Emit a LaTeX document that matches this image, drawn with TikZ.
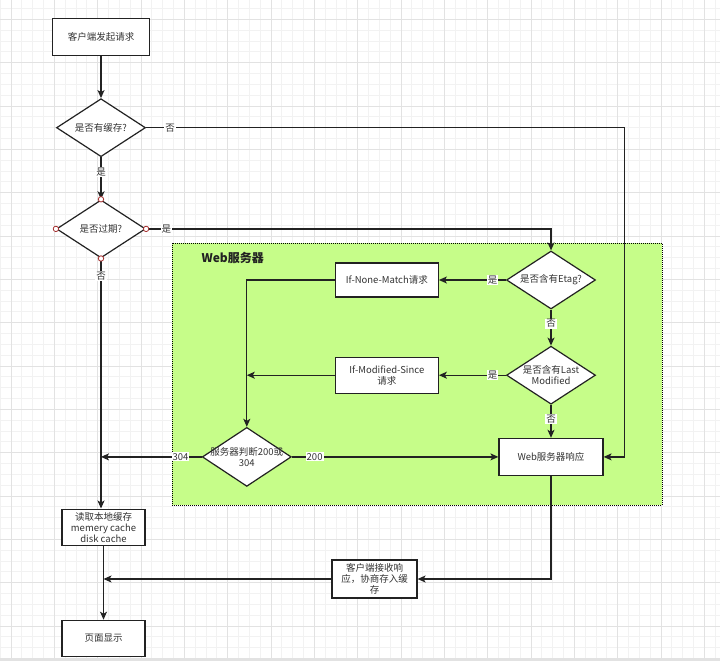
\documentclass[tikz,border=0pt]{standalone}
\usepackage{fontspec}
\setmainfont{Noto Sans CJK SC}
\usepackage{tikz}
\usetikzlibrary{
  arrows.meta,
  positioning,
  shapes.geometric,
}
\definecolor{gridminor}{RGB}{242, 242, 242}
\definecolor{gridmajor}{RGB}{226, 226, 226}
\definecolor{zonegreen}{RGB}{198, 253, 137}
\definecolor{linegray}{RGB}{34, 34, 34}
\definecolor{textgray}{RGB}{51, 51, 51}
\definecolor{handlered}{RGB}{165, 45, 45}
\tikzstyle{arrow} = [
  -{Stealth[length=8pt,width=7pt,inset=2pt]},
  line width=1.2pt,
  linegray,
]
\tikzstyle{box} = [
  rectangle,
  draw=linegray,
  line width=1.2pt,
  fill=white,
  align=center,
  inner sep=0pt,
  text=textgray,
]
\tikzstyle{decision} = [
  diamond,
  draw=linegray,
  line width=1.2pt,
  fill=white,
  inner sep=0pt,
  minimum width=89pt,
  minimum height=58pt,
]
\tikzstyle{lbl} = [fill=white, inner sep=1pt, text=textgray]
\tikzstyle{handle} = [draw=handlered, fill=white, line width=0.8pt]

\begin{document}
\begin{tikzpicture}[x=1pt, y=-1pt, font=\fontsize{9.5}{11}\selectfont, node distance=0pt and 0pt]
      \useasboundingbox (0,0) rectangle (720,661);
      \fill[white] (0,0) rectangle (720,661);
      \foreach \k in {0,...,66}
        \draw[gridminor, line width=0.8pt] ({0.17+10.8333*\k},0) -- ++(0,661);
      \foreach \k in {0,...,60}
        \draw[gridminor, line width=0.8pt] (0,{8.5+10.8333*\k}) -- ++(720,0);
      \foreach \k in {0,...,16}
        \draw[gridmajor, line width=0.8pt] ({11+43.3333*\k},0) -- ++(0,661);
      \foreach \k in {0,...,14}
        \draw[gridmajor, line width=0.8pt] (0,{19.33+43.3333*\k}) -- ++(720,0);
      \fill[gridmajor] (0,657.5) rectangle (720,661);

      \node[rectangle,draw=black,densely dotted,line width=1pt,fill=zonegreen,minimum width=490pt,minimum height=262pt,inner sep=0pt] (webzone) at (417,374) {};
      \node[font=\bfseries\fontsize{12}{14}\selectfont,text=linegray,anchor=west] (webtitle) at (198,258) {Web服务器};

      \node[box,minimum width=97pt,minimum height=37pt] (req) at (101,37) {客户端发起请求};
      \node[decision,label={[text=textgray]center:是否有缓存?}] (hascache) [below=42pt of req] {};
      \node[decision,label={[text=textgray]center:是否过期?}] (expired) [below=42pt of hascache] {};
      \node[box,minimum width=83pt,minimum height=36pt,xshift=2.5pt] (readcache) [below=250pt of expired] {读取本地缓存\\memery cache\\disk cache};
      \node[box,minimum width=83pt,minimum height=36pt] (page) [below=74pt of readcache] {页面显示};

      \node[decision,label={[text=textgray]center:是否含有Etag?}] (etag) at (551,280) {};
      \node[decision,label={[text=textgray,align=center]center:{是否含有Last\\Modified}}] (lastmod) [below=36pt of etag] {};
      \node[box,minimum width=104pt,minimum height=37pt] (webresp) [below=33pt of lastmod] {Web服务器响应};
      \node[box,minimum width=103pt,minimum height=34pt] (inm) [left=67pt of etag] {If-None-Match请求};
      \node[box,minimum width=103pt,minimum height=36pt] (ims) [left=67pt of lastmod] {If-Modified-Since\\请求};
      \node[decision,minimum height=59pt,label={[text=textgray,align=center]center:{服务器判断200或\\304}}] (judge) [left=206.5pt of webresp] {};
      \node[box,minimum width=85pt,minimum height=38pt] (client) at (374.5,579) {客户端接收响\\应，协商存入缓\\存};

      \draw[arrow] (req) -- (hascache);
      \draw[arrow] (hascache) -- node[lbl,pos=0.35] {是} (expired);
      \draw[arrow] (hascache.east) -- node[lbl,pos=0.05] {否} ++(478,0) |- (webresp.east);
      \draw[arrow] (expired.east) -- node[lbl,pos=0.05] {是} (expired.east -| etag.north) -- (etag.north);
      \draw[arrow] (expired.south) -- node[lbl,pos=0.07] {否} (expired.south |- readcache.north);

      \draw[arrow] (etag) -- node[lbl,pos=0.2] {是} (inm);
      \draw[arrow] (etag) -- node[lbl,pos=0.39] {否} (lastmod);
      \draw[arrow] (lastmod) -- node[lbl,pos=0.2] {是} (ims);
      \draw[arrow] (lastmod) -- node[lbl,pos=0.42] {否} (webresp);
      \draw[arrow] (inm.west) -| (judge.north);
      \draw[arrow] (ims.west) -- (ims.west -| judge.north);
      \draw[arrow] (judge.west) -- node[lbl,pos=0.21] {304} (judge.west -| expired.south);
      \draw[arrow] (judge) -- node[lbl,pos=0.11] {200} (webresp);

      \draw[arrow] (webresp.south) |- (client.east);
      \draw[arrow] (client.west) -- (client.west -| readcache.south);
      \draw[arrow] (readcache) -- (page);

      \foreach \a in {north,south,east,west}
        \draw[handle] (expired.\a) circle (2.7pt);
    \end{tikzpicture}
\end{document}
